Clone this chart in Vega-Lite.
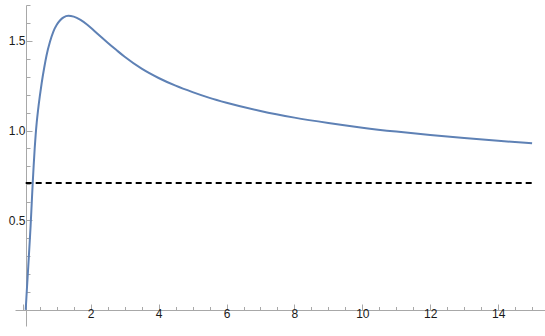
{
  "$schema": "https://vega.github.io/schema/vega-lite/v6.json",
  "width": 530,
  "height": 321,
  "autosize": "none",
  "padding": {"left": 15, "top": 5, "right": 0, "bottom": 10},
  "background": "white",
  "config": {
    "view": {"stroke": null},
    "axis": {
      "grid": false,
      "domainColor": "#a8a8a8",
      "tickColor": "#a8a8a8",
      "labelColor": "#1a1a1a",
      "labelFont": "Liberation Sans",
      "labelFontSize": 12,
      "title": null
    }
  },
  "datasets": {
    "curve": [
      {"x": 0.085, "y": 0.0},
      {"x": 0.12, "y": 0.115},
      {"x": 0.16, "y": 0.24},
      {"x": 0.2, "y": 0.37},
      {"x": 0.23, "y": 0.47},
      {"x": 0.26, "y": 0.585},
      {"x": 0.29, "y": 0.7},
      {"x": 0.32, "y": 0.805},
      {"x": 0.35, "y": 0.9},
      {"x": 0.38, "y": 0.98},
      {"x": 0.41, "y": 1.045},
      {"x": 0.45, "y": 1.115},
      {"x": 0.5, "y": 1.19},
      {"x": 0.556, "y": 1.265},
      {"x": 0.63, "y": 1.35},
      {"x": 0.7, "y": 1.42},
      {"x": 0.8, "y": 1.495},
      {"x": 0.9, "y": 1.552},
      {"x": 1.0, "y": 1.59},
      {"x": 1.1, "y": 1.615},
      {"x": 1.2, "y": 1.631},
      {"x": 1.34, "y": 1.64},
      {"x": 1.5, "y": 1.635},
      {"x": 1.7, "y": 1.617},
      {"x": 1.9, "y": 1.59},
      {"x": 2.1, "y": 1.557},
      {"x": 2.3, "y": 1.523},
      {"x": 2.5, "y": 1.49},
      {"x": 2.75, "y": 1.45},
      {"x": 3.0, "y": 1.411},
      {"x": 3.5, "y": 1.345},
      {"x": 4.0, "y": 1.293},
      {"x": 4.5, "y": 1.25},
      {"x": 5.0, "y": 1.214},
      {"x": 5.5, "y": 1.182},
      {"x": 6.0, "y": 1.155},
      {"x": 7.0, "y": 1.109},
      {"x": 8.0, "y": 1.072},
      {"x": 9.0, "y": 1.042},
      {"x": 10.0, "y": 1.016},
      {"x": 11.0, "y": 0.994},
      {"x": 12.0, "y": 0.975},
      {"x": 13.0, "y": 0.958},
      {"x": 14.0, "y": 0.943},
      {"x": 15.0, "y": 0.929}
    ],
    "ref": [
      {"x": 0.085, "y": 0.7071},
      {"x": 15.0, "y": 0.7071}
    ]
  },
  "resolve": {"axis": {"x": "independent", "y": "independent"}},
  "layer": [
    {
      "data": {"name": "ref"},
      "mark": {"type": "line", "color": "black", "strokeWidth": 2, "strokeDash": [6, 4], "clip": true},
      "encoding": {
        "x": {"field": "x", "type": "quantitative", "scale": {"domain": [-0.23, 15.38], "nice": false, "zero": false},
          "axis": {"orient": "bottom", "offset": -16, "values": [0.5,1,1.5,2.5,3,3.5,4.5,5,5.5,6.5,7,7.5,8.5,9,9.5,10.5,11,11.5,12.5,13,13.5,14.5,15], "labels": false, "tickSize": -3.5, "domain": true}},
        "y": {"field": "y", "type": "quantitative", "scale": {"domain": [-0.09, 1.7], "nice": false, "zero": false},
          "axis": {"orient": "left", "offset": -11, "values": [0.1,0.2,0.3,0.4,0.6,0.7,0.8,0.9,1.1,1.2,1.3,1.4,1.6,1.7], "labels": false, "tickSize": -4, "domain": true}}
      }
    },
    {
      "data": {"name": "curve"},
      "mark": {"type": "line", "color": "#5E81B5", "strokeWidth": 2, "interpolate": "monotone"},
      "encoding": {
        "x": {"field": "x", "type": "quantitative",
          "axis": {"orient": "bottom", "offset": -16, "values": [0,2,4,6,8,10,12,14], "labelExpr": "datum.value == 0 ? '' : datum.label", "format": "d", "tickSize": -6, "labelPadding": 4, "domain": false}},
        "y": {"field": "y", "type": "quantitative",
          "axis": {"orient": "left", "offset": -11, "values": [0,0.5,1,1.5], "labelExpr": "datum.value == 0 ? '' : format(datum.value, '.1f')", "tickSize": -6, "labelPadding": 7, "domain": false}}
      }
    }
  ]
}
